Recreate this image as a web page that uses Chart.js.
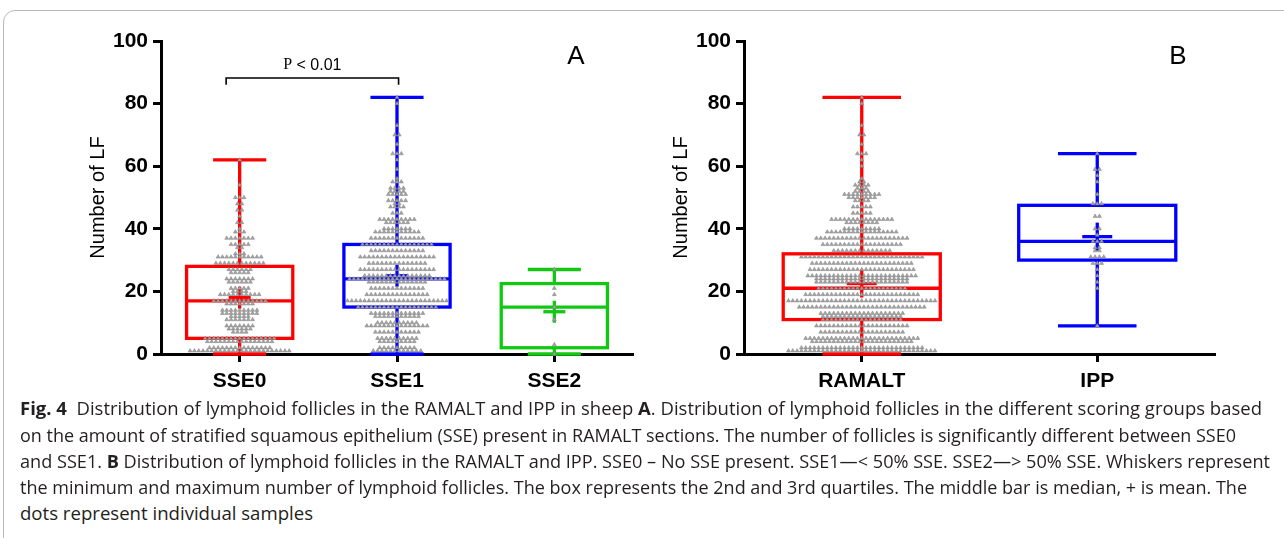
<!DOCTYPE html>
<html>
<head>
<meta charset="utf-8">
<title>Fig. 4 lymphoid follicles</title>
<script src="https://cdn.jsdelivr.net/npm/chart.js@4.4.1/dist/chart.umd.min.js"></script>
<style>
  html, body { margin: 0; padding: 0; background: #fff; }
  #page { position: relative; width: 1284px; height: 538px; overflow: hidden; }
  .frame { position: absolute; left: 3px; top: 10px; width: 1320px; height: 580px;
           border: 1px solid #b8b8b8; border-radius: 12px; }
  .wrap { position: absolute; top: 0; height: 400px; }
  #wrapA { left: 0; width: 640px; }
  #wrapB { left: 583px; width: 660px; }
  .cap { position: absolute; left: 20px; white-space: nowrap; line-height: 26px;
         font-family: 'Open Sans', 'Noto Sans', sans-serif; font-size: 18px; color: #231f20;
         transform-origin: 0 50%; }
  .cap b { font-weight: 700; }
</style>
</head>
<body>
<div id="page">
  <div class="frame"></div>
  <div class="wrap" id="wrapA"><canvas id="chartA"></canvas></div>
  <div class="wrap" id="wrapB"><canvas id="chartB"></canvas></div>
  <div class="cap" style="top:395px" data-w="1242"><b>Fig. 4</b>&nbsp; Distribution of lymphoid follicles in the RAMALT and IPP in sheep <b>A</b>. Distribution of lymphoid follicles in the different scoring groups based</div>
  <div class="cap" style="top:422px" data-w="1216">on the amount of stratified squamous epithelium (SSE) present in RAMALT sections. The number of follicles is significantly different between SSE0</div>
  <div class="cap" style="top:448px" data-w="1250">and SSE1. <b>B</b> Distribution of lymphoid follicles in the RAMALT and IPP. SSE0 – No SSE present. SSE1—&lt; 50% SSE. SSE2—&gt; 50% SSE. Whiskers represent</div>
  <div class="cap" style="top:474px" data-w="1227">the minimum and maximum number of lymphoid follicles. The box represents the 2nd and 3rd quartiles. The middle bar is median, + is mean. The</div>
  <div class="cap" style="top:500px" data-w="293">dots represent individual samples</div>
</div>
<script>
// ---- panel A: scoring groups ----
const groupsA = ['SSE0', 'SSE1', 'SSE2'];
const colorsA = ['#ff0000', '#0000ff', '#12c812'];
const minA    = [0, 0, 0];
const q1A     = [5, 15, 2];
const medA    = [17, 24, 15];
const q3A     = [28, 35, 22.5];
const maxA    = [62, 82, 27];
const meanA   = [18, 25, 13.5];

// individual samples: value rows and how many samples sit on each row
const sse0Vals   = [62, 54, 50, 48, 46, 44, 42, 40, 39, 37, 35, 34, 32, 31, 29, 27, 26, 24, 23, 21, 20, 19, 17, 16, 14, 13, 12, 11, 9, 8, 7, 5, 4, 2, 1];
const sse0Counts = [1, 1, 3, 2, 2, 1, 2, 1, 3, 7, 5, 2, 3, 11, 12, 6, 5, 7, 6, 5, 4, 10, 13, 7, 9, 9, 5, 7, 7, 6, 4, 17, 16, 15, 24];
const sse1Vals   = [82, 80, 73, 70, 67, 64, 62, 59, 56, 55, 53, 52, 51, 49, 48, 47, 45, 43, 42, 40, 39, 37, 35, 33, 31, 29, 27, 25, 24, 23, 21, 19, 17, 15, 13, 12, 10, 9, 7, 5, 4, 2, 1];
const sse1Counts = [1, 1, 1, 2, 1, 3, 1, 1, 1, 3, 4, 4, 5, 5, 2, 4, 3, 9, 6, 7, 11, 13, 17, 13, 18, 14, 18, 16, 23, 14, 13, 15, 24, 19, 13, 11, 10, 15, 11, 10, 9, 9, 12];
const sse2Vals   = [27, 21, 19, 15, 11, 3, 0];
const sse2Counts = [1, 1, 1, 1, 1, 1, 1];

// ---- panel B: tissues ----
const groupsB = ['RAMALT', 'IPP'];
const colorsB = ['#ff0000', '#0000ff'];
const minB    = [0, 9];
const q1B     = [11, 30];
const medB    = [21, 36];
const q3B     = [32, 47.5];
const maxB    = [82, 64];
const meanB   = [22.5, 37.5];

const ramaltVals   = [82, 80, 73, 70, 67, 64, 62, 60, 56, 55, 54, 53, 52, 51, 50, 49, 47, 45, 43, 42, 40, 39, 37, 35, 33, 31, 29, 27, 25, 24, 23, 21, 19, 17, 15, 13, 12, 11, 9, 7, 5, 4, 2, 1];
const ramaltCounts = [1, 1, 1, 2, 1, 3, 1, 1, 1, 2, 4, 3, 4, 9, 7, 4, 5, 5, 15, 8, 9, 17, 22, 19, 14, 29, 24, 25, 26, 22, 22, 21, 27, 35, 30, 20, 19, 19, 22, 20, 27, 24, 29, 35];
const ippVals   = [64, 59, 57, 55, 51, 48, 44, 40, 38, 36, 34, 33, 31, 29, 27, 25, 23, 21, 9];
const ippCounts = [1, 2, 1, 1, 1, 3, 2, 2, 1, 3, 2, 2, 4, 3, 1, 1, 1, 1, 1];

const yTicks = [0, 20, 40, 60, 80, 100];

function swarm(vals, counts, xi, gap) {
    const pts = [];
    vals.forEach((v, k) => {
        const n = counts[k];
        for (let j = 0; j < n; j++) {
            pts.push({ x: xi + (j - (n - 1) / 2) * gap, y: v });
        }
    });
    return pts;
}

function line(ctx, x1, y1, x2, y2) {
    ctx.beginPath();
    ctx.moveTo(x1, y1);
    ctx.lineTo(x2, y2);
    ctx.stroke();
}

// box, whiskers, median and mean cross, drawn under the sample dots
const boxPlugin = {
    id: 'boxWhisker',
    beforeDatasetsDraw(chart, args, o) {
        const { ctx, scales: { x, y } } = chart;
        const catW = x.getPixelForValue(1) - x.getPixelForValue(0);
        ctx.save();
        ctx.lineWidth = o.lineWidth;
        o.medians.forEach((med, i) => {
            const cx = x.getPixelForValue(i);
            const hw = catW * o.boxFrac / 2;
            const cw = hw / 2;
            const yMin = y.getPixelForValue(o.mins[i]);
            const yQ1 = y.getPixelForValue(o.q1s[i]);
            const yMed = y.getPixelForValue(med);
            const yQ3 = y.getPixelForValue(o.q3s[i]);
            const yMax = y.getPixelForValue(o.maxs[i]);
            const yMean = y.getPixelForValue(o.means[i]);
            ctx.strokeStyle = o.colors[i];
            line(ctx, cx, yMax, cx, yQ3);
            line(ctx, cx, yQ1, cx, yMin);
            line(ctx, cx - cw, yMax, cx + cw, yMax);
            line(ctx, cx - cw, yMin, cx + cw, yMin);
            ctx.strokeRect(cx - hw, yQ3, hw * 2, yQ1 - yQ3);
            line(ctx, cx - hw, yMed, cx + hw, yMed);
            line(ctx, cx - o.plusW / 2, yMean, cx + o.plusW / 2, yMean);
            line(ctx, cx, yMean - o.plusH / 2, cx, yMean + o.plusH / 2);
        });
        ctx.restore();
    }
};

// panel letter and significance bracket
const notePlugin = {
    id: 'notes',
    afterDatasetsDraw(chart, args, o) {
        const { ctx, scales: { x, y } } = chart;
        ctx.save();
        ctx.fillStyle = '#000';
        ctx.textAlign = 'center';
        ctx.textBaseline = 'middle';
        ctx.font = '26px "Liberation Sans", Arial, sans-serif';
        ctx.fillText(o.letter, x.getPixelForValue(o.letterAt[0]), y.getPixelForValue(o.letterAt[1]));
        if (o.bracket) {
            const b = o.bracket;
            const x1 = x.getPixelForValue(b.from), x2 = x.getPixelForValue(b.to);
            const yb = y.getPixelForValue(b.y), yt = y.getPixelForValue(b.tip);
            ctx.strokeStyle = '#000';
            ctx.lineWidth = 1.6;
            ctx.beginPath();
            ctx.moveTo(x1, yt);
            ctx.lineTo(x1, yb);
            ctx.lineTo(x2, yb);
            ctx.lineTo(x2, yt);
            ctx.stroke();
            // serif P, sans rest
            const serif = '16px "Liberation Serif", "Times New Roman", serif';
            const sans = '16px "Liberation Sans", Arial, sans-serif';
            ctx.font = serif;
            const w1 = ctx.measureText('P').width;
            ctx.font = sans;
            const w2 = ctx.measureText(' < 0.01').width;
            const left = (x1 + x2) / 2 - (w1 + w2) / 2;
            const ty = y.getPixelForValue(b.textY);
            ctx.textAlign = 'left';
            ctx.font = serif;
            ctx.fillText('P', left, ty);
            ctx.font = sans;
            ctx.fillText(' < 0.01', left + w1, ty);
        }
        ctx.restore();
    }
};

function makePanel(canvasId, cfg) {
    const datasets = cfg.swarms.map(s => ({
        type: 'scatter',
        data: s,
        pointStyle: 'triangle',
        pointRadius: 2.3,
        backgroundColor: '#a4a4a4',
        borderColor: '#808080',
        borderWidth: 0.5,
        clip: false
    }));
    const axisFont = { family: '"Liberation Sans", Arial, sans-serif', size: 21, weight: 'bold' };
    const gridOpts = {
        display: true, drawOnChartArea: false, drawTicks: true,
        tickLength: 8, tickWidth: 3, tickColor: '#000'
    };
    return new Chart(document.getElementById(canvasId), {
        type: 'scatter',
        data: { datasets },
        plugins: [boxPlugin, notePlugin],
        options: {
            responsive: true,
            maintainAspectRatio: false,
            animation: false,
            events: [],
            layout: { padding: cfg.padding },
            plugins: {
                legend: { display: false },
                tooltip: { enabled: false },
                boxWhisker: cfg.box,
                notes: cfg.notes
            },
            scales: {
                x: {
                    type: 'linear',
                    min: -0.5,
                    max: cfg.labels.length - 0.5,
                    afterBuildTicks: s => { s.ticks = cfg.labels.map((_, i) => ({ value: i })); },
                    afterFit: s => { s.height = 46; },
                    ticks: {
                        callback: v => cfg.labels[v],
                        font: axisFont, color: '#000', padding: 7, maxRotation: 0
                    },
                    grid: gridOpts,
                    border: { display: true, color: '#000', width: 3 }
                },
                y: {
                    min: 0,
                    max: 100,
                    afterBuildTicks: s => { s.ticks = yTicks.map(v => ({ value: v })); },
                    afterFit: s => { s.width = 161; },
                    ticks: { font: axisFont, color: '#000', padding: 5 },
                    grid: gridOpts,
                    border: { display: true, color: '#000', width: 3 },
                    title: {
                        display: true,
                        text: 'Number of LF',
                        color: '#000',
                        font: { family: '"Liberation Sans", Arial, sans-serif', size: 20 },
                        padding: { top: 86, bottom: 0 }
                    }
                }
            }
        }
    });
}

const gapA = 0.0274;
makePanel('chartA', {
    labels: groupsA,
    padding: { top: 41, right: 7, bottom: 0, left: 0 },
    swarms: [
        swarm(sse0Vals, sse0Counts, 0, gapA),
        swarm(sse1Vals, sse1Counts, 1, gapA),
        swarm(sse2Vals, sse2Counts, 2, gapA)
    ],
    box: {
        mins: minA, q1s: q1A, medians: medA, q3s: q3A, maxs: maxA, means: meanA,
        colors: colorsA, boxFrac: 0.675, lineWidth: 3.3, plusW: 22, plusH: 22
    },
    notes: {
        letter: 'A', letterAt: [2.137, 95],
        bracket: { from: -0.086, to: 1.01, y: 88.2, tip: 86, textY: 92.3 }
    }
});

const gapB = 0.0183;
makePanel('chartB', {
    labels: groupsB,
    padding: { top: 41, right: 28, bottom: 0, left: 0 },
    swarms: [
        swarm(ramaltVals, ramaltCounts, 0, gapB),
        swarm(ippVals, ippCounts, 1, gapB)
    ],
    box: {
        mins: minB, q1s: q1B, medians: medB, q3s: q3B, maxs: maxB, means: meanB,
        colors: colorsB, boxFrac: 0.667, lineWidth: 3.3, plusW: 30, plusH: 28
    },
    notes: { letter: 'B', letterAt: [1.343, 95] }
});

// stretch each caption line to the width it has in the figure
function fitCaption() {
    document.querySelectorAll('.cap').forEach(el => {
        el.style.transform = 'none';
        const w = el.getBoundingClientRect().width;
        el.style.transform = 'scaleX(' + (Number(el.dataset.w) / w) + ')';
    });
}
fitCaption();
if (document.fonts) document.fonts.ready.then(fitCaption);
</script>
</body>
</html>
